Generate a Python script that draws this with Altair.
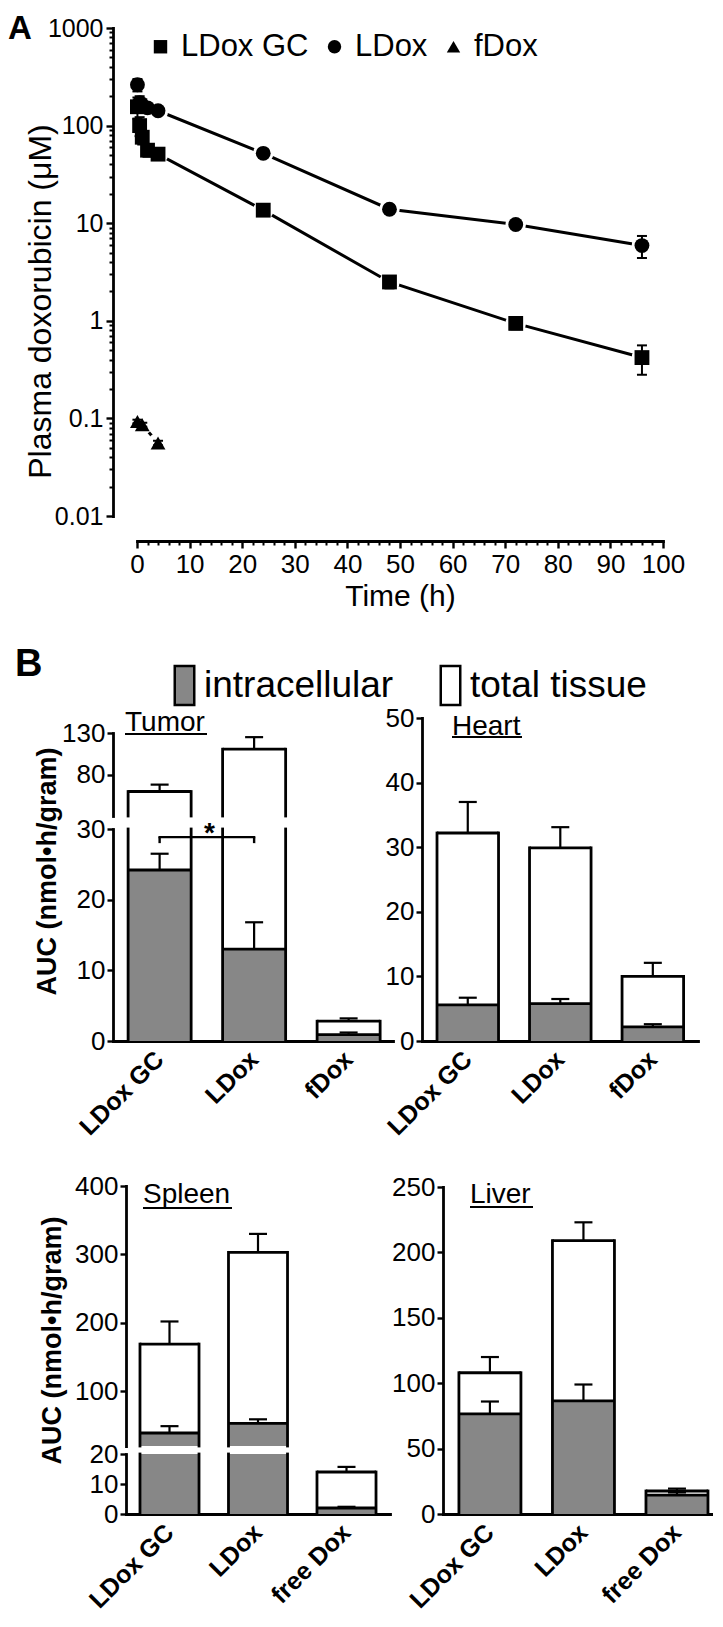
import altair as alt
import pandas as pd

FONT = "Liberation Sans"
GRAY = "#878787"
LW = 2.8

# ---------------- Panel A data (plasma doxorubicin) ----------------
a_series = ["LDox GC", "LDox", "fDox"]
a_shapes = ["square", "circle", "triangle-up"]

ldoxgc_time = [0.083, 0.5, 1, 2, 4, 24, 48, 72, 96]
ldoxgc_conc = [156, 100, 76, 56, 51, 13.6, 2.5, 0.94, 0.42]
ldoxgc_err = [38, 22, 12, 8, 6, 1.3, 0.35, 0.12, 0.14]

ldox_time = [0.083, 0.5, 1, 2, 4, 24, 48, 72, 96]
ldox_conc = [262, 172, 162, 152, 142, 52, 13.9, 9.7, 5.9]
ldox_err = [38, 28, 24, 15, 9, 4, 1.0, 0.6, 1.5]

fdox_time = [0.083, 1, 4]
fdox_conc = [0.093, 0.086, 0.056]
fdox_err = [0.004, 0.004, 0.003]

time_ticks = list(range(0, 101, 10))
time_minor = [t for t in range(2, 100, 2) if t % 10]
conc_ticks = [0.01, 0.1, 1, 10, 100, 1000]
conc_minor = [round(m * 10.0 ** k, 4) for k in range(-2, 3) for m in range(2, 10)]

# ---------------- Panel B data (tissue AUC) ----------------
b_series = ["intracellular", "total tissue"]
b_colors = [GRAY, "white"]

tumor_groups = ["LDox GC", "LDox", "fDox"]
tumor_intra = [24.2, 13.0, 0.9]
tumor_intra_err = [2.3, 3.8, 0.3]
tumor_total = [59.5, 110.5, 2.8]
tumor_total_err = [8.3, 14.5, 0.4]

heart_groups = ["LDox GC", "LDox", "fDox"]
heart_intra = [5.6, 5.8, 2.2]
heart_intra_err = [1.1, 0.7, 0.4]
heart_total = [32.2, 29.9, 10.0]
heart_total_err = [4.8, 3.2, 2.1]

spleen_groups = ["LDox GC", "LDox", "free Dox"]
spleen_intra = [39, 53, 2.0]
spleen_intra_err = [10, 6, 0.4]
spleen_total = [169, 303, 14.0]
spleen_total_err = [33, 27, 1.7]

liver_groups = ["LDox GC", "LDox", "free Dox"]
liver_intra = [76.5, 86.5, 14.5]
liver_intra_err = [9.5, 12.5, 2.0]
liver_total = [108, 209, 17.6]
liver_total_err = [12, 14, 1.8]

sig_pair = ["LDox GC", "LDox"]

# ---------------- build tables ----------------
rows = []
for s, ts, cs, es in zip(a_series, [ldoxgc_time, ldox_time, fdox_time],
                         [ldoxgc_conc, ldox_conc, fdox_conc],
                         [ldoxgc_err, ldox_err, fdox_err]):
    for t, c, e in zip(ts, cs, es):
        rows.append({"series": s, "time": t, "conc": c, "lo": c - e, "hi": c + e})
dfA = pd.DataFrame(rows)


def organ_df(groups, intra, intra_err, total, total_err):
    r = []
    for g, v, e in zip(groups, total, total_err):
        r.append({"group": g, "series": "total tissue", "value": v, "top": v + e})
    for g, v, e in zip(groups, intra, intra_err):
        r.append({"group": g, "series": "intracellular", "value": v, "top": v + e})
    return pd.DataFrame(r)


layers = []
H = 1499

# ---------------- Panel A ----------------
A_OFF = 526 - H
xA_scale = alt.Scale(domain=[0, 100], range=[24, 550], nice=False, zero=False)
yA_scale = alt.Scale(type="log", domain=[0.01, 1000], range=[501, 13], nice=False)

xA_major = alt.Axis(orient="bottom", offset=A_OFF, values=time_ticks, labelFontSize=26,
                    tickSize=7, tickWidth=2.4, domainWidth=LW, labelPadding=3,
                    labelFlush=False, labelOverlap=False, titleFontSize=30,
                    titleFontWeight="normal", titlePadding=4)
xA_minor = alt.Axis(orient="bottom", offset=A_OFF, values=time_minor, labels=False,
                    tickSize=4, tickWidth=2, domain=False)
yA_major = alt.Axis(orient="left", values=conc_ticks, format="~g", labelFontSize=25,
                    tickSize=7, tickWidth=2.4, domainWidth=LW, labelPadding=3,
                    labelFlush=False, labelOverlap=False, titleFontSize=32,
                    titleFontWeight="normal", titleX=-73, titleY=286, titleAlign="center",
                    titleBaseline="middle", titleAngle=270)
yA_minor = alt.Axis(orient="left", values=conc_minor, labels=False, tickSize=4,
                    tickWidth=2, domain=False)

legA = alt.Legend(orient="none", legendX=32, legendY=16, direction="horizontal", title=None,
                  labelFontSize=31, symbolSize=180, symbolFillColor="black",
                  symbolStrokeWidth=0, labelOffset=5, columnPadding=10, padding=0,
                  labelLimit=300)

baseA = alt.Chart(dfA)
layers.append(baseA.mark_line(color="black", strokeWidth=3).encode(
    x=alt.X("time:Q", scale=xA_scale, axis=xA_major, title="Time (h)"),
    y=alt.Y("conc:Q", scale=yA_scale, axis=yA_major, title="Plasma doxorubicin (μM)"),
    detail="series:N"))
layers.append(baseA.mark_point(shape="circle", filled=True, color="white", size=420, opacity=1).encode(
    x=alt.X("time:Q", scale=xA_scale, axis=xA_minor, title=None),
    y=alt.Y("conc:Q", scale=yA_scale, axis=yA_minor, title=None)))
layers.append(baseA.mark_rule(color="black", strokeWidth=2).encode(
    x=alt.X("time:Q", scale=xA_scale, axis=None),
    y=alt.Y("lo:Q", scale=yA_scale, axis=None),
    y2="hi:Q"))
for f in ["lo", "hi"]:
    layers.append(baseA.mark_tick(orient="horizontal", size=10, thickness=2, color="black", opacity=1).encode(
        x=alt.X("time:Q", scale=xA_scale, axis=None),
        y=alt.Y(f + ":Q", scale=yA_scale, axis=None)))
layers.append(baseA.mark_point(filled=True, color="black", size=220, opacity=1).encode(
    x=alt.X("time:Q", scale=xA_scale, axis=None),
    y=alt.Y("conc:Q", scale=yA_scale, axis=None),
    shape=alt.Shape("series:N", scale=alt.Scale(domain=a_series, range=a_shapes), legend=legA)))

# ---------------- Panel B ----------------
fill_scale = alt.Scale(domain=b_series, range=b_colors)
legB = alt.Legend(orient="none", legendX=53, legendY=652, direction="horizontal", title=None,
                  labelFontSize=37, symbolType="M-1,-2H1V2H-1Z", symbolSize=380,
                  symbolStrokeColor="black", symbolStrokeWidth=2.5, labelOffset=1,
                  columnPadding=38, padding=0, labelLimit=400)


def bar_layers(df, groups, xrng, pi, po, align, x_off, y_off, segs):
    xscale = alt.Scale(domain=groups, range=xrng, paddingInner=pi, paddingOuter=po, align=align)
    xaxis = alt.Axis(orient="bottom", offset=x_off, ticks=False, domainWidth=LW, labelAngle=-45,
                     labelAlign="right", labelBaseline="middle", labelFontSize=25,
                     labelFontWeight="bold", labelPadding=14, labelOverlap=False)
    out = []
    for seg in segs:
        lo, hi = seg["domain"]
        ys = alt.Scale(domain=[lo, hi], range=seg["range"], clamp=True, nice=False, zero=False)
        yaxis = alt.Axis(orient="left", offset=y_off, values=seg["ticks"], labelFontSize=26,
                         tickSize=6, tickWidth=2.4, domainWidth=LW, labelPadding=2,
                         labelFlush=False, labelOverlap=False, **seg.get("title_kw", {}))

        def X(axis=None, bp=None):
            if bp is None:
                return alt.X("group:N", scale=xscale, axis=axis, title=None)
            return alt.X("group:N", scale=xscale, axis=axis, title=None, bandPosition=bp)

        def Y(field, axis=None, title=None):
            return alt.Y(field + ":Q", scale=ys, axis=axis, title=title, stack=None)

        base = alt.Chart(df)
        for s in ["total tissue", "intracellular"]:
            first = s == "total tissue"
            out.append(base.transform_filter(
                f"datum.series == '{s}' && datum.value > {lo}").mark_bar(opacity=1).encode(
                x=X(axis=xaxis if (first and seg.get("xaxis")) else None),
                y=Y("value", axis=yaxis if first else None,
                    title=seg.get("title") if first else None),
                y2=alt.Y2Datum(0),
                fill=alt.Fill("series:N", scale=fill_scale, legend=legB)))
        tot = base.transform_filter(f"datum.series == 'total tissue' && datum.value > {lo}")
        for bp in (0, 1):
            out.append(tot.mark_rule(color="black", strokeWidth=LW, strokeCap="square").encode(
                x=X(bp=bp), y=Y("value"), y2=alt.Y2Datum(0)))
        out.append(base.transform_filter(f"datum.value > {lo} && datum.value <= {hi}").mark_bar(
            fillOpacity=0, stroke="black", strokeWidth=LW, opacity=1).encode(
            x=X(), y=Y("value"), y2=alt.Y2("value:Q")))
        err = base.transform_filter(f"datum.value > {lo} && datum.top <= {hi}")
        out.append(err.mark_rule(color="black", strokeWidth=2.2).encode(
            x=X(), y=Y("value"), y2=alt.Y2("top:Q")))
        out.append(err.mark_tick(orient="horizontal", size=18, thickness=2.2, color="black",
                                 opacity=1).encode(x=X(), y=Y("top")))
    return out, xscale


auc_title = "AUC (nmol•h/gram)"
auc_kw = dict(titleFontSize=27, titleFontWeight="bold", titleAngle=270, titleAlign="center",
              titleBaseline="middle")

TUMOR_LOW_RANGE = [1026, 814]
tumor_segs = [
    {"domain": [30, 130], "range": [801, 718], "ticks": [80, 130]},
    {"domain": [0, 30], "range": TUMOR_LOW_RANGE, "ticks": [0, 10, 20, 30], "xaxis": True,
     "title": auc_title, "title_kw": dict(auc_kw, titleX=-66, titleY=856)},
]
tl, tumor_x = bar_layers(organ_df(tumor_groups, tumor_intra, tumor_intra_err, tumor_total, tumor_total_err),
                         tumor_groups, [0, 280], 0.333, 0.148, 0.54, 1026 - H, 0, tumor_segs)
layers += tl

heart_segs = [{"domain": [0, 50], "range": [1026, 703], "ticks": [0, 10, 20, 30, 40, 50], "xaxis": True}]
hl, _ = bar_layers(organ_df(heart_groups, heart_intra, heart_intra_err, heart_total, heart_total_err),
                   heart_groups, [309, 585], 0.335, 0.159, 0.51, 1026 - H, -309, heart_segs)
layers += hl

spleen_segs = [
    {"domain": [20, 400], "range": [1431, 1171], "ticks": [100, 200, 300, 400],
     "title": auc_title, "title_kw": dict(auc_kw, titleX=-74, titleY=1325)},
    {"domain": [0, 20], "range": [1499, 1439], "ticks": [0, 10, 20], "xaxis": True},
]
sl, _ = bar_layers(organ_df(spleen_groups, spleen_intra, spleen_intra_err, spleen_total, spleen_total_err),
                   spleen_groups, [13, 277], 0.333, 0.158, 0.5, 0, -13, spleen_segs)
layers += sl

liver_segs = [{"domain": [0, 250], "range": [1499, 1172], "ticks": [0, 50, 100, 150, 200, 250], "xaxis": True}]
ll, _ = bar_layers(organ_df(liver_groups, liver_intra, liver_intra_err, liver_total, liver_total_err),
                   liver_groups, [330, 600], 0.337, 0.112, 0.76, 0, -330, liver_segs)
layers += ll

# significance bracket (tumor, intracellular LDox GC vs LDox)
tumor_low_y = alt.Scale(domain=[0, 30], range=TUMOR_LOW_RANGE, clamp=True, nice=False, zero=False)
sig_df = pd.DataFrame({"g1": [sig_pair[0]], "g2": [sig_pair[1]]})
sig = alt.Chart(sig_df)
layers.append(sig.mark_rule(color="black", strokeWidth=2.4, strokeCap="square").encode(
    x=alt.X("g1:N", scale=tumor_x, axis=None), x2="g2:N",
    y=alt.YDatum(28.85, scale=tumor_low_y, axis=None)))
for g in ["g1", "g2"]:
    layers.append(sig.mark_rule(color="black", strokeWidth=2.4).encode(
        x=alt.X(g + ":N", scale=tumor_x, axis=None),
        y=alt.YDatum(28.85, scale=tumor_low_y, axis=None), y2=alt.Y2Datum(28.0)))
layers.append(sig.mark_text(text="*", fontSize=28, fontWeight="bold", dx=46,
                            baseline="alphabetic", color="black").encode(
    x=alt.X("g1:N", scale=tumor_x, axis=None),
    y=alt.YDatum(28.2, scale=tumor_low_y, axis=None)))

# ---------------- annotations (panel letters, organ names) ----------------
one = alt.Chart(pd.DataFrame({"k": [0]}))


def label(txt, x, y, size, weight="normal"):
    return one.mark_text(text=txt, fontSize=size, fontWeight=weight, align="left",
                         baseline="alphabetic", color="black").encode(
        x=alt.value(x), y=alt.value(y))


def underline(x1, x2, y):
    return one.mark_rule(color="black", strokeWidth=2).encode(
        x=alt.value(x1), x2=alt.value(x2), y=alt.value(y))


layers += [
    label("A", -105, 24, 33, "bold"),
    label("B", -98, 661, 38, "bold"),
    label("Tumor", 12, 716, 28), underline(12, 94, 719),
    label("Heart", 339, 720, 28), underline(339, 409, 722),
    label("Spleen", 30, 1188, 28), underline(30, 119, 1193),
    label("Liver", 357, 1188, 28), underline(357, 420, 1192),
]

chart = alt.layer(*layers).resolve_scale(x="independent", y="independent").properties(
    width=600, height=H, padding={"top": 5, "left": 0, "right": 0, "bottom": 0}
).configure_view(stroke=None).configure_axis(
    labelFont=FONT, titleFont=FONT, domainColor="black", tickColor="black",
    labelColor="black", titleColor="black", grid=False, domainCap="square"
).configure_legend(labelFont=FONT, titleFont=FONT, labelColor="black").configure_text(font=FONT)

chart.save("out.html", embed_options={"renderer": "svg", "actions": False})
